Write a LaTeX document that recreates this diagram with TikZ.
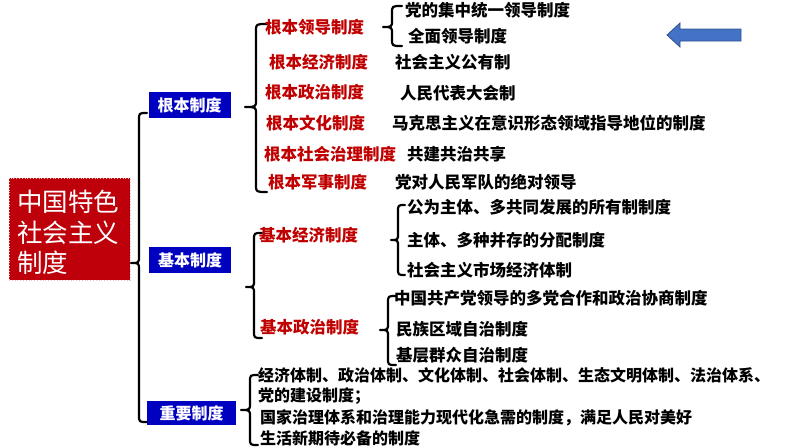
\documentclass[tikz,border=0pt]{standalone}
\usepackage{fontspec}
\setmainfont{Noto Sans CJK SC}
\definecolor{lblred}{RGB}{192,0,0}
\definecolor{rootred}{RGB}{190,0,10}
\definecolor{boxblue}{RGB}{0,0,192}
\definecolor{arrfill}{RGB}{68,114,196}
\definecolor{arrline}{RGB}{47,82,143}
\newcommand\mybrace[6]{% tip-x, vertical-x, end-x, top-y, tip-y, bottom-y
  \draw[brc] (#3,#4) .. controls (#2,#4) .. (#2,#4+7) -- (#2,#5-7)
    .. controls (#2,#5) .. (#1,#5) .. controls (#2,#5) .. (#2,#5+7)
    -- (#2,#6-7) .. controls (#2,#6) .. (#3,#6);}
\begin{document}
\begin{tikzpicture}[x=1pt,y=-1pt,
  redlbl/.style={anchor=west,inner sep=0pt,text=lblred,font=\fontsize{16.5}{18}\selectfont\bfseries},
  blk/.style={anchor=west,inner sep=0pt,font=\fontsize{16.5}{18}\selectfont\bfseries},
  blksm/.style={anchor=west,inner sep=0pt,font=\fontsize{16}{18}\selectfont\bfseries},
  bluebox/.style={fill=boxblue,text=white,font=\fontsize{16}{18}\selectfont\bfseries,inner sep=0pt},
  rootbox/.style={fill=rootred,draw=white!75!rootred,dotted,line width=0.8pt,minimum width=121pt,minimum height=102pt,inner sep=0pt},
  roottext/.style={text=white,font=\fontsize{25.5}{30.5}\selectfont,text width=105pt,align=left,inner sep=0pt},
  brc/.style={draw=black,line width=2.2pt,line cap=round,line join=round}]
\useasboundingbox (0,0) rectangle (794,447);

% root
\node[rootbox] (root) at (69.5,229) {};
\node[roottext] (roottxt) at (69.5,232.5) {中国特色\\社会主义\\制度};

% level-1 boxes
\node[bluebox,minimum width=82pt,minimum height=26pt] (gb) at (189.5,105) {根本制度};
\node[bluebox,minimum width=82pt,minimum height=26pt] (jb) at (190,260) {基本制度};
\node[bluebox,minimum width=89pt,minimum height=24pt] (zy) at (191.5,413) {重要制度};

% big brace
\mybrace{131}{139}{147}{113}{263}{422}

% 根本制度 branch
\mybrace{245}{256}{267}{24}{107}{192}
\node[redlbl] (g1) at (265,27) {根本领导制度};
\node[redlbl] (g2) at (269,62) {根本经济制度};
\node[redlbl] (g3) at (265,92) {根本政治制度};
\node[redlbl] (g4) at (266,123) {根本文化制度};
\node[redlbl] (g5) at (264,154) {根本社会治理制度};
\node[redlbl] (g6) at (268,182) {根本军事制度};

\mybrace{383}{392}{402}{6}{27}{46}
\node[blk] (g1a) at (405,10) {党的集中统一领导制度};
\node[blk] (g1b) at (408,36) {全面领导制度};
\node[blk] (g2a) at (395,62) {社会主义公有制};
\node[blk] (g3a) at (400,93) {人民代表大会制};
\node[blk] (g4a) at (392,123) {马克思主义在意识形态领域指导地位的制度};
\node[blk] (g5a) at (407,154) {共建共治共享};
\node[blk] (g6a) at (395,182) {党对人民军队的绝对领导};

% arrow
\draw[fill=arrfill,draw=arrline,line width=0.8pt] (741,29) -- (680,29) -- (680,23) -- (667,35) -- (680,47) -- (680,41) -- (741,41) -- cycle;

% 基本制度 branch
\mybrace{246}{254}{262}{233}{287}{338}
\node[redlbl] (j1) at (259,235) {基本经济制度};
\node[redlbl] (j2) at (260,327) {基本政治制度};

\mybrace{391}{398}{405}{205}{240}{275}
\node[blk] (j1a) at (407,207) {公为主体、多共同发展的所有制制度};
\node[blk] (j1b) at (407,240) {主体、多种并存的分配制度};
\node[blk] (j1c) at (407,270) {社会主义市场经济体制};

\mybrace{380}{388}{396}{296}{330}{365}
\node[blk] (j2a) at (394,298) {中国共产党领导的多党合作和政治协商制度};
\node[blk] (j2b) at (396,329) {民族区域自治制度};
\node[blk] (j2c) at (396,355) {基层群众自治制度};

% 重要制度 branch
\mybrace{241}{250}{258}{375}{410}{445}
\node[blksm] (z1) at (258,375) {经济体制、政治体制、文化体制、社会体制、生态文明体制、法治体系、};
\node[blksm] (z2) at (258,396) {党的建设制度；};
\node[blksm] (z3) at (260,418) {国家治理体系和治理能力现代化急需的制度，满足人民对美好};
\node[blksm] (z4) at (260,438) {生活新期待必备的制度};
\end{tikzpicture}
\end{document}
